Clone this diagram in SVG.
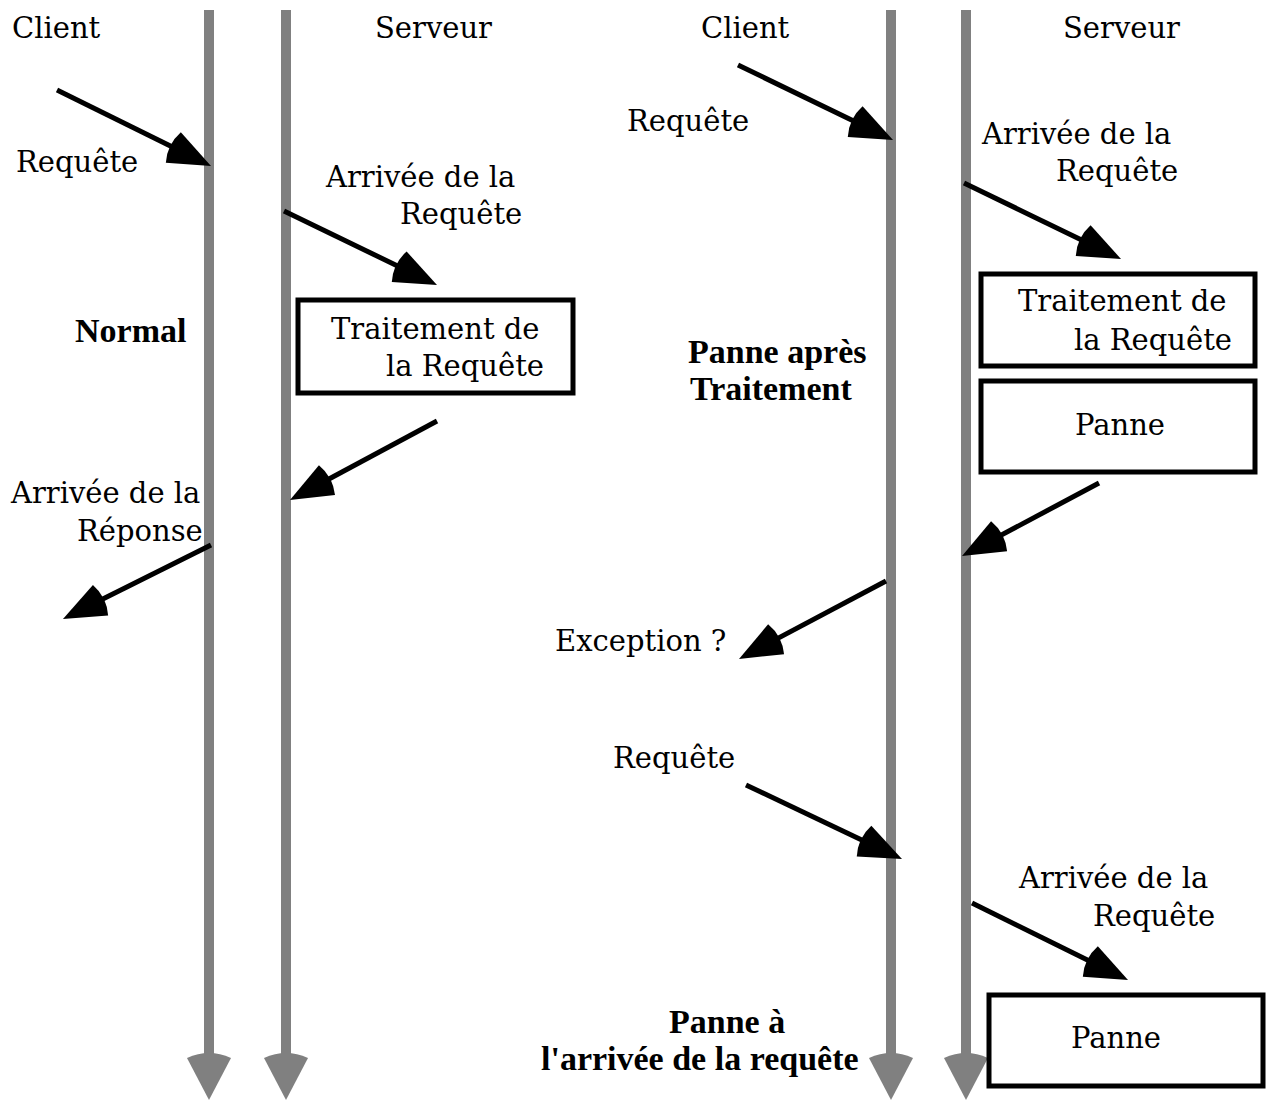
<svg xmlns="http://www.w3.org/2000/svg" width="1266" height="1101" viewBox="0 0 1266 1101">
<style>
.t{font-family:"DejaVu Serif","Liberation Serif",serif;font-size:29px;fill:#000}
.b{font-family:"Liberation Serif","Times New Roman",serif;font-size:34px;font-weight:bold;fill:#000}
.life{stroke:#808080;stroke-width:10;fill:none}
.lh{fill:#808080}
.msg{stroke:#000;stroke-width:5;fill:none;marker-end:url(#ah)}
.box{fill:#fff;stroke:#000;stroke-width:5}
</style>
<defs>
<marker id="ah" markerUnits="userSpaceOnUse" markerWidth="60" markerHeight="40" viewBox="-6 -20 60 40" refX="14" refY="0" orient="auto" overflow="visible">
<path d="M44,0 L2,-17 Q-5,0 2,17 Z" fill="#000"/>
</marker>
</defs>
<g id="lifelines">
<line class="life" x1="209" y1="10" x2="209" y2="1058"/>
<path class="lh" d="M209,1100 L187,1058 Q209,1048 231,1058 Z"/>
<line class="life" x1="286" y1="10" x2="286" y2="1058"/>
<path class="lh" d="M286,1100 L264,1058 Q286,1048 308,1058 Z"/>
<line class="life" x1="891" y1="10" x2="891" y2="1058"/>
<path class="lh" d="M891,1100 L869,1058 Q891,1048 913,1058 Z"/>
<line class="life" x1="966" y1="10" x2="966" y2="1058"/>
<path class="lh" d="M966,1100 L944,1058 Q966,1048 988,1058 Z"/>
</g>
<g id="connectors">
<line class="msg" x1="57" y1="90" x2="184.1" y2="152.7"/>
<line class="msg" x1="284" y1="211" x2="410" y2="272"/>
<line class="msg" x1="437" y1="421" x2="316.4" y2="485.8"/>
<line class="msg" x1="211" y1="545" x2="89.8" y2="605.6"/>
<line class="msg" x1="738" y1="65" x2="866" y2="126.9"/>
<line class="msg" x1="964" y1="183" x2="1094" y2="245.9"/>
<line class="msg" x1="1099" y1="483" x2="988.5" y2="541.9"/>
<line class="msg" x1="886" y1="581" x2="765.5" y2="644.9"/>
<line class="msg" x1="746" y1="785" x2="874.9" y2="846.2"/>
<line class="msg" x1="972" y1="903" x2="1101.1" y2="966.7"/>
</g>
<g id="box-traitement-1">
<rect class="box" x="298" y="300" width="275" height="93"/>
<text class="t" x="331" y="339">Traitement de</text>
<text class="t" x="386" y="376">la Requête</text>
</g>
<g id="box-traitement-2">
<rect class="box" x="981" y="274" width="274" height="92"/>
<text class="t" x="1018" y="311">Traitement de</text>
<text class="t" x="1074" y="350">la Requête</text>
</g>
<g id="box-panne-1">
<rect class="box" x="981" y="381" width="274" height="91"/>
<text class="t" x="1075" y="435">Panne</text>
</g>
<g id="box-panne-2">
<rect class="box" x="989" y="995" width="274" height="91"/>
<text class="t" x="1071" y="1048">Panne</text>
</g>
<g id="labels">
<text class="t" x="12" y="38">Client</text>
<text class="t" x="375" y="38">Serveur</text>
<text class="t" x="701" y="38">Client</text>
<text class="t" x="1063" y="38">Serveur</text>
<text class="t" x="16" y="172">Requête</text>
<text class="t" x="326" y="187">Arrivée de la</text>
<text class="t" x="400" y="224">Requête</text>
<text class="b" x="75" y="342">Normal</text>
<text class="t" x="11" y="503">Arrivée de la</text>
<text class="t" x="77" y="541">Réponse</text>
<text class="t" x="627" y="131">Requête</text>
<text class="t" x="982" y="144">Arrivée de la</text>
<text class="t" x="1056" y="181">Requête</text>
<text class="b" x="688" y="363">Panne après</text>
<text class="b" x="690" y="400">Traitement</text>
<text class="t" x="555" y="651">Exception ?</text>
<text class="t" x="613" y="768">Requête</text>
<text class="t" x="1019" y="888">Arrivée de la</text>
<text class="t" x="1093" y="926">Requête</text>
<text class="b" x="669" y="1033">Panne à</text>
<text class="b" x="541" y="1070">l'arrivée de la requête</text>
</g>
</svg>
